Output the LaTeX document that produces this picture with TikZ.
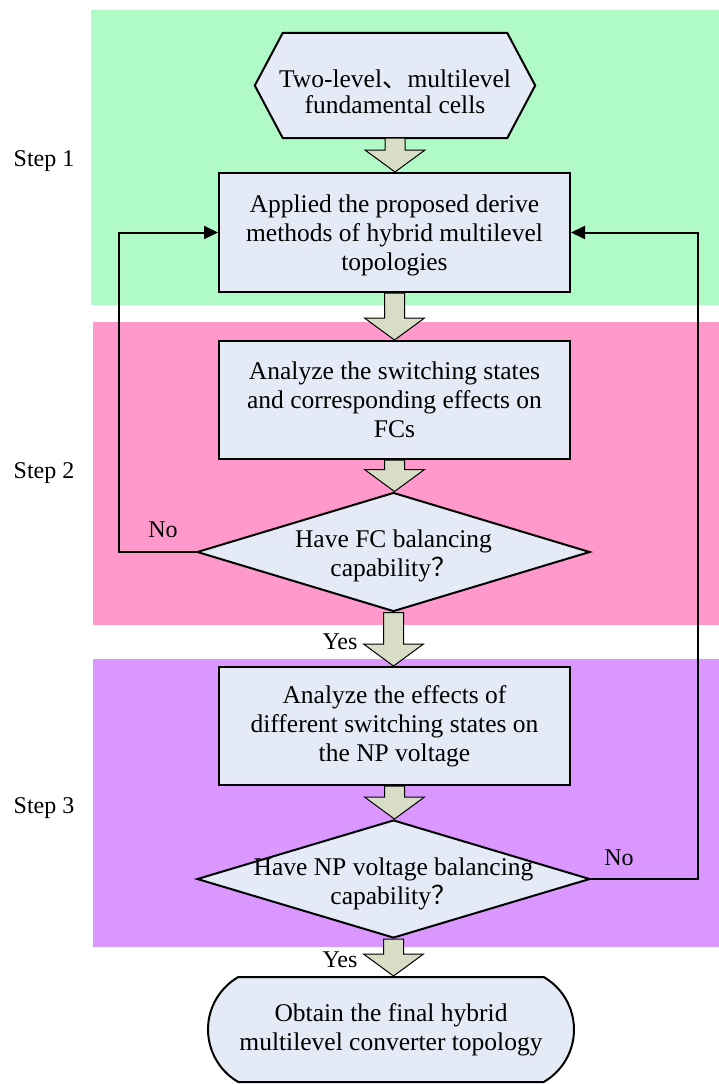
\documentclass[tikz,border=0pt]{standalone}
\usepackage{fontspec}
\setmainfont{Liberation Serif}
\newfontfamily\cjk{Noto Sans CJK SC}
\usetikzlibrary{shapes.geometric,shapes.misc,arrows.meta,calc}
\definecolor{bandgreen}{RGB}{176,250,200}
\definecolor{bandpink}{RGB}{255,153,204}
\definecolor{bandpurple}{RGB}{218,151,255}
\definecolor{boxfill}{RGB}{228,235,246}
\definecolor{arrfill}{RGB}{216,222,197}
\tikzset{
  txt/.style={font=\fontsize{25.5}{29}\selectfont, align=center},
  procbox/.style={txt, draw=black, line width=2pt, fill=boxfill, minimum width=351pt, minimum height=118pt, inner sep=0pt},
  decbox/.style={diamond, draw=black, line width=2pt, fill=boxfill, minimum width=393pt, minimum height=119pt, inner sep=0pt},
  termbox/.style={txt, rounded rectangle, rounded rectangle arc length=120, draw=black, line width=2pt, fill=boxfill, minimum width=366pt, minimum height=105pt, inner sep=0pt},
  conn/.style={draw=black, line width=2pt, -{Triangle[length=14pt,width=13pt]}},
  barrow/.style={draw=black, line width=1pt, fill=arrfill, line join=miter},
  lbl/.style={font=\fontsize{24}{28}\selectfont},
}
\newcommand\blockarr[2]{%
  \path (#1.south) coordinate (ba1) (#2.north) coordinate (ba2);
  \draw[barrow] let \p1=(ba1), \p2=(ba2) in
    (\x1-10pt,\y1) -- (\x1-10pt,\y2+22pt) -- (\x1-30pt,\y2+22pt) -- (\x1,\y2)
    -- (\x1+30pt,\y2+22pt) -- (\x1+10pt,\y2+22pt) -- (\x1+10pt,\y1) -- cycle;
}
\begin{document}
\begin{tikzpicture}[x=1pt,y=-1pt]
\useasboundingbox (0,0) rectangle (719,1084);
\fill[white] (0,0) rectangle (719,1084);
% bands
\fill[bandgreen] (91,10) rectangle (719,305);
\fill[bandpink] (93,322) rectangle (719,625);
\fill[bandpurple] (93,659) rectangle (719,947);
% step labels
\node[lbl] (s1) at (44,161) {Step 1};
\node[lbl] (s2) at (44,473) {Step 2};
\node[lbl] (s3) at (44,808) {Step 3};
% hexagon start
\node[txt, minimum width=224pt, minimum height=105pt, inner sep=0pt] (hex) at (395,85.5) {};
\draw[line width=2pt, fill=boxfill] (hex.west) ++(-28,0) -- (hex.north west) -- (hex.north east) -- ($(hex.east)+(28,0)$) -- (hex.south east) -- (hex.south west) -- cycle;
\node[txt, font=\fontsize{25.5}{25.5}\selectfont] (hext) at (395,92) {Two-level{\cjk 、}multilevel\\fundamental cells};
% process boxes
\node[procbox, minimum height=119pt, text depth=0pt] (b1) at (394.5,232.5) {Applied the proposed derive\\methods of hybrid multilevel\\topologies};
\node[procbox] (b2) at (394.5,400) {Analyze the switching states\\and corresponding effects on\\FCs};
\node[decbox] (d1) at (393.5,552) {};
\node[txt] (d1t) at (393.5,556) {Have FC balancing\\capability{\cjk ？}};
\node[procbox] (b3) at (394.5,726) {Analyze the effects of\\different switching states on\\the NP voltage};
\node[decbox, minimum height=118pt] (d2) at (393.5,879) {};
\node[txt] (d2t) at (393.5,884) {Have NP voltage balancing\\capability{\cjk ？}};
\node[termbox] (term) at (391,1029.5) {Obtain the final hybrid\\multilevel converter topology};
% block arrows
\blockarr{hex}{b1}
\blockarr{b1}{b2}
\blockarr{b2}{d1}
\blockarr{d1}{b3}
\blockarr{b3}{d2}
\blockarr{d2}{term}
% loops
\draw[conn] (d1.west) -- ++(-77,0) |- (b1.west);
\draw[conn] (d2.east) -- ++(107,0) |- (b1.east);
% labels
\node[lbl] (no1) at (163,530) {No};
\node[lbl] (no2) at (619,858) {No};
\node[lbl] (yes1) at (340,642) {Yes};
\node[lbl] (yes2) at (340,960) {Yes};
\end{tikzpicture}
\end{document}
